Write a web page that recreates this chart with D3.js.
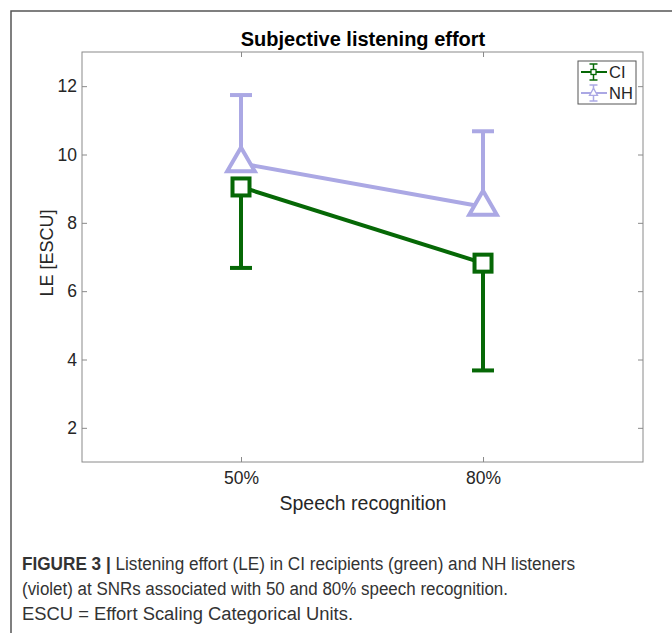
<!DOCTYPE html>
<html>
<head>
<meta charset="utf-8">
<script src="https://cdn.jsdelivr.net/npm/d3@7"></script>
<style>
  html, body { margin: 0; padding: 0; background: #fff; }
  svg { display: block; }
</style>
</head>
<body>
<svg id="chart" width="672" height="633"></svg>
<script>
// Speech recognition levels (x categories)
const categories = ["50%", "80%"];
const categoryPos = [1, 2];

// Mean listening effort (ESCU) per group
const ciMeans = [9.05, 6.82];
const nhMeans = [9.74, 8.47];

// One-sided error bars: CI drawn downward, NH drawn upward
const ciLower = [6.68, 3.68];
const nhUpper = [11.74, 10.68];

const yTicks = [2, 4, 6, 8, 10, 12];
const legendLabels = ["CI", "NH"];

const GREEN = "#066806";
const VIOLET = "#aba8e4";
const AXIS = "#8a8a8a";
const FONT = "'Liberation Sans', Arial, Helvetica, sans-serif";

const svg = d3.select("#chart");

// Figure frame
svg.append("rect")
  .attr("x", 11).attr("y", 11)
  .attr("width", 700).attr("height", 700)
  .attr("fill", "none").attr("stroke", "#555").attr("stroke-width", 1.5);

const L = 82, R = 643, T = 52, B = 462;
const x = d3.scaleLinear().domain([0.343, 2.661]).range([L, R]);
const y = d3.scaleLinear().domain([1, 13]).range([B, T]);

// Axes box
svg.append("rect")
  .attr("x", L).attr("y", T).attr("width", R - L).attr("height", B - T)
  .attr("fill", "none").attr("stroke", AXIS).attr("stroke-width", 1);

function styleAxis(g) {
  g.attr("font-family", FONT).attr("font-size", 17.5);
  g.select(".domain").remove();
  g.selectAll(".tick line").attr("stroke", AXIS);
  g.selectAll(".tick text").attr("fill", "#262626")
    .attr("font-family", FONT).attr("font-size", 17.5);
}

svg.append("g").attr("transform", `translate(${L},0)`)
  .call(d3.axisLeft(y).tickValues(yTicks).tickSize(-5).tickPadding(5))
  .call(styleAxis);
svg.append("g").attr("transform", `translate(${R},0)`)
  .call(d3.axisRight(y).tickValues(yTicks).tickSize(-5).tickFormat(""))
  .call(styleAxis);
svg.append("g").attr("transform", `translate(0,${B})`)
  .call(d3.axisBottom(x).tickValues(categoryPos).tickFormat((d, i) => categories[i]).tickSize(-5).tickPadding(10))
  .call(styleAxis);
svg.append("g").attr("transform", `translate(0,${T})`)
  .call(d3.axisTop(x).tickValues(categoryPos).tickSize(-5).tickFormat(""))
  .call(styleAxis);

// Titles
svg.append("text")
  .attr("x", 363).attr("y", 46)
  .attr("text-anchor", "middle")
  .attr("font-family", FONT).attr("font-weight", "bold").attr("font-size", 20)
  .attr("fill", "#000")
  .text("Subjective listening effort");

svg.append("text")
  .attr("x", 363).attr("y", 510)
  .attr("text-anchor", "middle")
  .attr("font-family", FONT).attr("font-size", 19.5)
  .attr("fill", "#262626")
  .text("Speech recognition");

svg.append("text")
  .attr("transform", "translate(53,253) rotate(-90)")
  .attr("text-anchor", "middle")
  .attr("font-family", FONT).attr("font-size", 18)
  .attr("fill", "#262626")
  .text("LE [ESCU]");

const plot = svg.append("g");
const line = d3.line().x((d, i) => x(categoryPos[i])).y(d => y(d));
const CAP = 11;

// NH series
plot.append("path").datum(nhMeans).attr("d", line)
  .attr("fill", "none").attr("stroke", VIOLET).attr("stroke-width", 4);
categoryPos.forEach((c, i) => {
  plot.append("line")
    .attr("x1", x(c)).attr("x2", x(c)).attr("y1", y(nhMeans[i])).attr("y2", y(nhUpper[i]))
    .attr("stroke", VIOLET).attr("stroke-width", 4);
  plot.append("line")
    .attr("x1", x(c) - CAP).attr("x2", x(c) + CAP).attr("y1", y(nhUpper[i])).attr("y2", y(nhUpper[i]))
    .attr("stroke", VIOLET).attr("stroke-width", 4);
});
const tri = d3.symbol().type(d3.symbolTriangle).size(330);
plot.selectAll(".nh-mark").data(nhMeans).join("path")
  .attr("class", "nh-mark")
  .attr("d", tri)
  .attr("transform", (d, i) => `translate(${x(categoryPos[i])},${y(d)})`)
  .attr("fill", "#fff").attr("stroke", VIOLET).attr("stroke-width", 4);

// CI series
plot.append("path").datum(ciMeans).attr("d", line)
  .attr("fill", "none").attr("stroke", GREEN).attr("stroke-width", 4);
categoryPos.forEach((c, i) => {
  plot.append("line")
    .attr("x1", x(c)).attr("x2", x(c)).attr("y1", y(ciMeans[i])).attr("y2", y(ciLower[i]))
    .attr("stroke", GREEN).attr("stroke-width", 4);
  plot.append("line")
    .attr("x1", x(c) - CAP).attr("x2", x(c) + CAP).attr("y1", y(ciLower[i])).attr("y2", y(ciLower[i]))
    .attr("stroke", GREEN).attr("stroke-width", 4);
});
const SQ = 17;
plot.selectAll(".ci-mark").data(ciMeans).join("rect")
  .attr("class", "ci-mark")
  .attr("x", (d, i) => x(categoryPos[i]) - SQ / 2)
  .attr("y", d => y(d) - SQ / 2)
  .attr("width", SQ).attr("height", SQ)
  .attr("fill", "#fff").attr("stroke", GREEN).attr("stroke-width", 4);

// Legend
const lg = svg.append("g");
lg.append("rect").attr("x", 578).attr("y", 61).attr("width", 58).attr("height", 43)
  .attr("fill", "#fff").attr("stroke", "#555").attr("stroke-width", 1);
const legendColors = [GREEN, VIOLET];
legendLabels.forEach((lab, i) => {
  const cy = 72 + i * 21;
  const col = legendColors[i];
  const mx = 593.5;
  lg.append("line").attr("x1", 581).attr("x2", 607).attr("y1", cy).attr("y2", cy)
    .attr("stroke", col).attr("stroke-width", 2);
  lg.append("line").attr("x1", mx).attr("x2", mx).attr("y1", cy - 8).attr("y2", cy + 8)
    .attr("stroke", col).attr("stroke-width", 1.5);
  lg.append("line").attr("x1", mx - 4).attr("x2", mx + 4).attr("y1", cy - 8).attr("y2", cy - 8)
    .attr("stroke", col).attr("stroke-width", 1.5);
  lg.append("line").attr("x1", mx - 4).attr("x2", mx + 4).attr("y1", cy + 8).attr("y2", cy + 8)
    .attr("stroke", col).attr("stroke-width", 1.5);
  if (i === 0) {
    lg.append("rect").attr("x", mx - 2.5).attr("y", cy - 2.5).attr("width", 5).attr("height", 5)
      .attr("fill", "#fff").attr("stroke", col).attr("stroke-width", 1.3);
  } else {
    lg.append("path").attr("d", d3.symbol().type(d3.symbolTriangle).size(28))
      .attr("transform", `translate(${mx},${cy})`)
      .attr("fill", "#fff").attr("stroke", col).attr("stroke-width", 1.3);
  }
  lg.append("text").attr("x", 609).attr("y", cy + 6)
    .attr("font-family", FONT).attr("font-size", 16.5).attr("fill", "#262626")
    .text(lab);
});

// Caption
const capLines = [
  { parts: [{ t: "FIGURE 3 | ", b: true }, { t: "Listening effort (LE) in CI recipients (green) and NH listeners", b: false }], w: 553 },
  { parts: [{ t: "(violet) at SNRs associated with 50 and 80% speech recognition.", b: false }], w: 486 },
  { parts: [{ t: "ESCU = Effort Scaling Categorical Units.", b: false }], w: 331 }
];
capLines.forEach((ln, i) => {
  const t = svg.append("text").attr("x", 22).attr("y", 570 + i * 25)
    .attr("font-family", FONT).attr("font-size", 18).attr("fill", "#333")
    .attr("textLength", ln.w).attr("lengthAdjust", "spacingAndGlyphs");
  ln.parts.forEach(p => t.append("tspan").attr("font-weight", p.b ? "bold" : "normal").text(p.t));
});
</script>
</body>
</html>
